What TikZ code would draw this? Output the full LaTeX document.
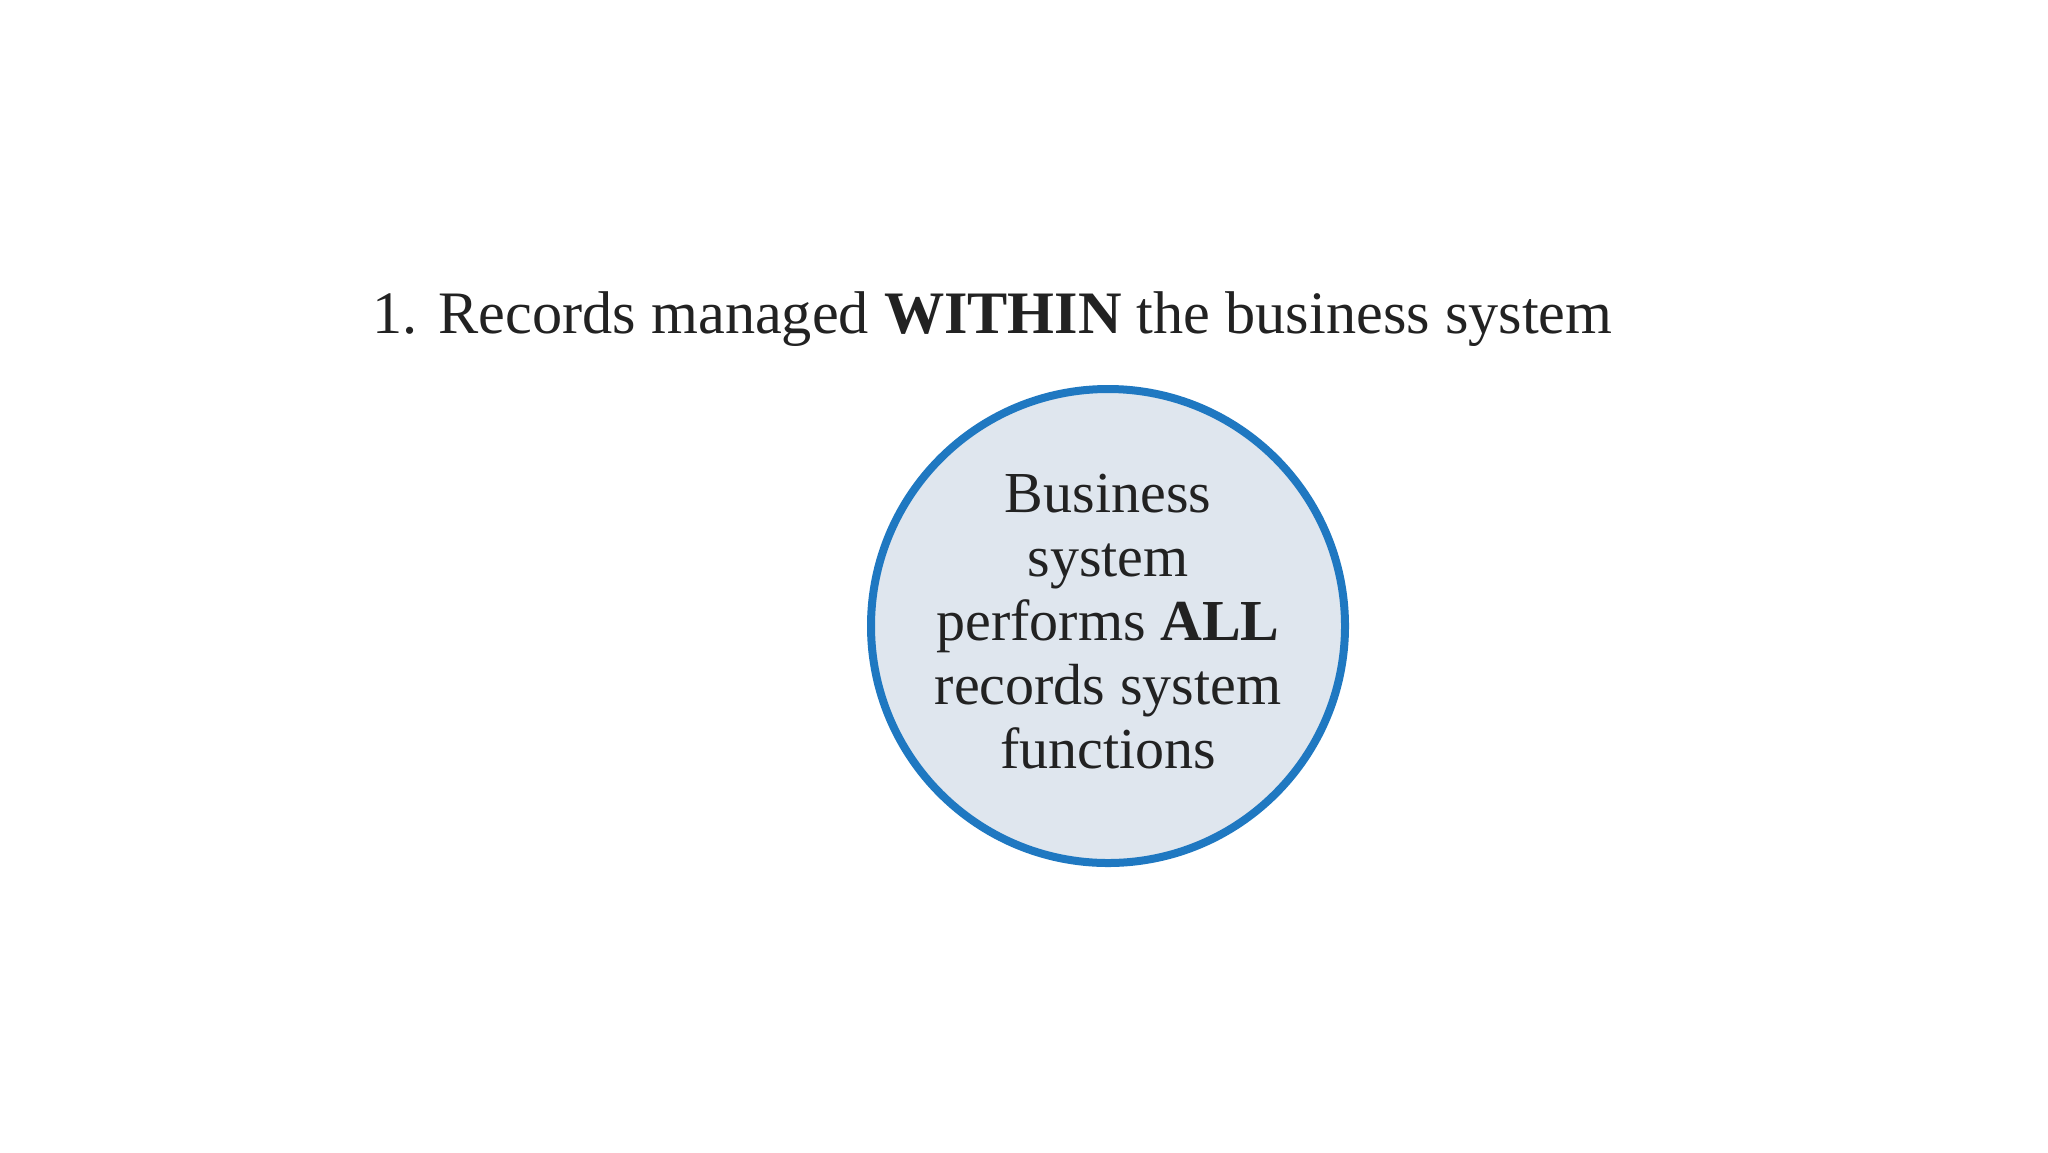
\documentclass[tikz,border=0pt]{standalone}
\usepackage{fontspec}
\setmainfont{Liberation Serif}
\usepackage{graphicx}
\definecolor{ringblue}{HTML}{1F78C1}
\definecolor{ringfill}{HTML}{DFE6EE}
\definecolor{ink}{HTML}{222222}
\begin{document}
\begin{tikzpicture}[x=0.5pt,y=-0.5pt,
  titletext/.style={anchor=base west,inner sep=0pt,text=ink},
  ring/.style={circle,draw=ringblue,line width=4pt,fill=ringfill,minimum size=237pt,inner sep=0pt},
  ringtext/.style={align=center,text=ink,font=\fontsize{29}{32}\selectfont}]
\useasboundingbox (0,0) rectangle (2048,1152);
\node[titletext] (title) at (372,333) {\resizebox{620pt}{!}{\fontsize{32}{36}\selectfont 1.\hspace{0.35em}Records managed \textbf{WITHIN} the business system}};
\node[ring] (c) at (1108,626) {};
\node[ringtext] (ct) at (1108,622) {Business\\system\\performs \textbf{ALL}\\records system\\functions};
\end{tikzpicture}
\end{document}
